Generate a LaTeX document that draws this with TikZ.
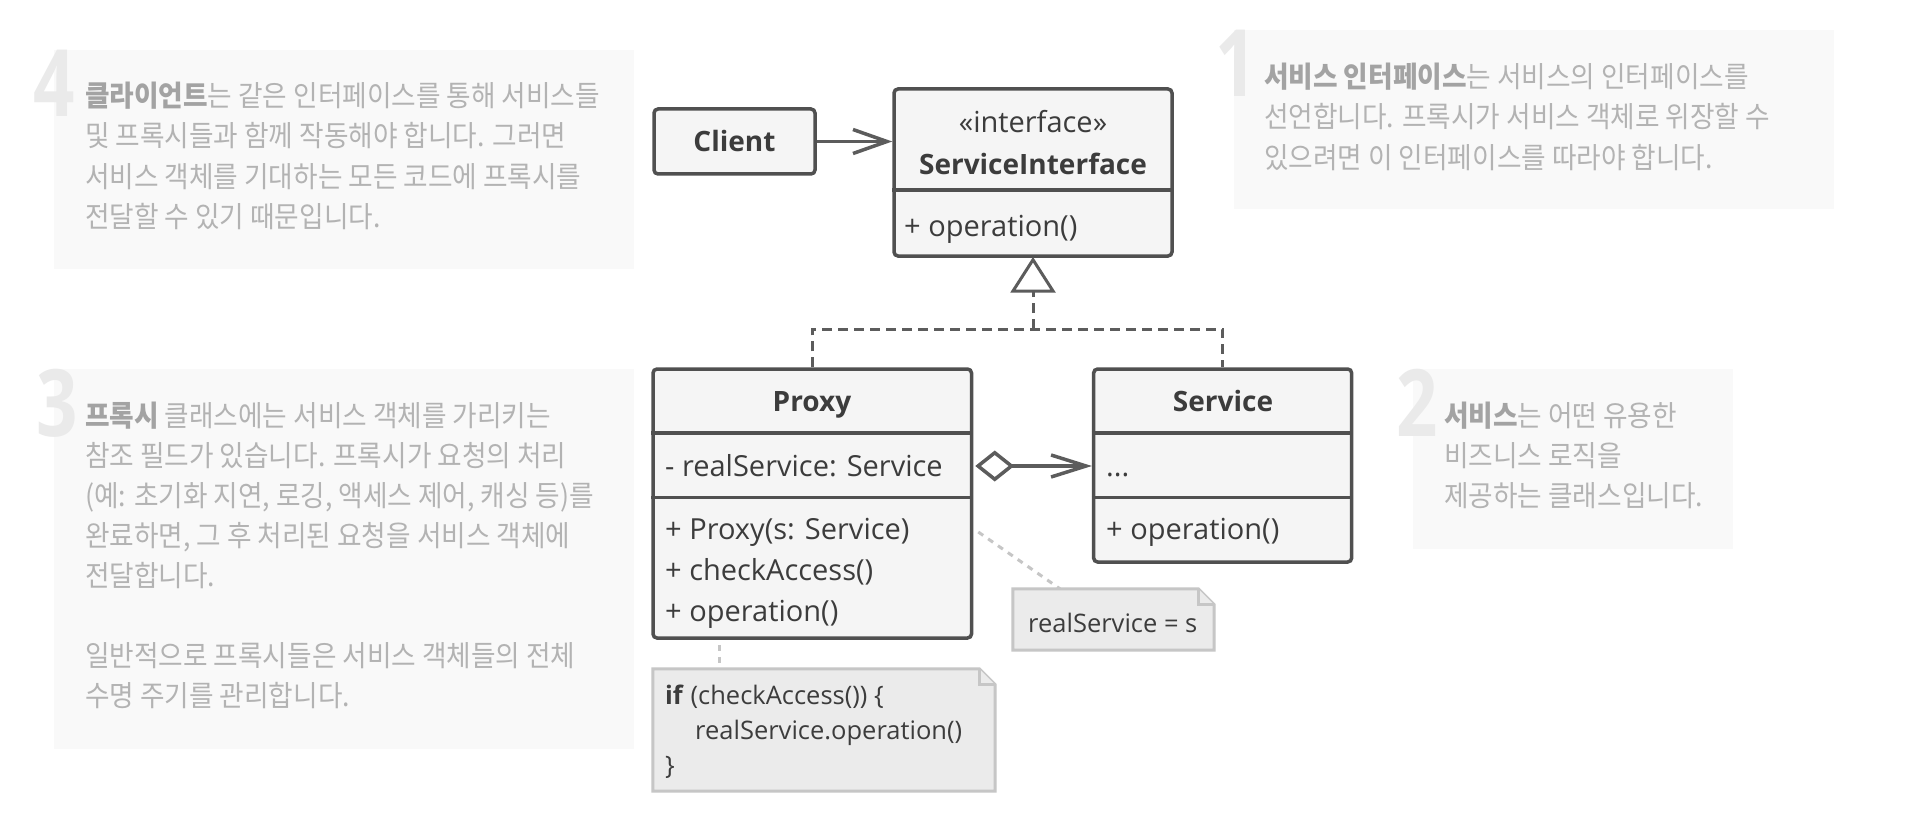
\documentclass[tikz,border=0pt]{standalone}
\usepackage{fontspec}
\setmainfont{Open Sans}
\newfontfamily\krfont[FakeStretch=0.92]{Noto Sans CJK KR}
\usetikzlibrary{arrows.meta}
\definecolor{strokec}{HTML}{505050}
\definecolor{connc}{HTML}{5C5C5C}
\definecolor{boxfill}{HTML}{F5F5F5}
\definecolor{umltext}{HTML}{3C3C3C}
\definecolor{notefill}{HTML}{EBEBEB}
\definecolor{notestroke}{HTML}{C6C6C6}
\definecolor{expfill}{HTML}{F9F9F9}
\definecolor{exptext}{HTML}{B3B3B3}
\definecolor{expbold}{HTML}{A3A3A3}
\definecolor{digitc}{HTML}{EAEAEA}
\begin{document}
\begin{tikzpicture}[x=1pt,y=-1pt,
  umlbox/.style={draw=strokec, line width=3.5pt, fill=boxfill, rounded corners=4pt, inner sep=0pt},
  sepline/.style={draw=strokec, line width=3.5pt},
  umltxt/.style={font=\fontsize{29}{35}\selectfont, text=umltext, inner sep=0pt, anchor=base west},
  umlctr/.style={font=\fontsize{29}{35}\selectfont, text=umltext, inner sep=0pt, anchor=base},
  umlbold/.style={font=\fontsize{28}{35}\selectfont\bfseries, text=umltext, inner sep=0pt, anchor=base},
  notetxt/.style={font=\fontsize{25.5}{33}\selectfont, text=umltext, inner sep=0pt, anchor=base west},
  notebox/.style={draw=none, inner sep=0pt},
  noteshape/.style={draw=notestroke, fill=notefill, line width=3pt, line join=miter},
  notelink/.style={draw=notestroke, line width=3pt, dash pattern=on 6pt off 6pt},
  conn/.style={draw=connc, line width=3.5pt},
  realize/.style={draw=connc, line width=3pt, dash pattern=on 10pt off 6pt},
  expbox/.style={fill=expfill, draw=none, inner sep=0pt, anchor=north west},
  exptxt/.style={font=\krfont\fontsize{29}{40}\selectfont, text=exptext, inner sep=0pt, anchor=base west},
  digitnum/.style={font=\fontsize{93}{93}\selectfont\bfseries, text=digitc, inner sep=0pt, anchor=north west},
]
\useasboundingbox[fill=white] (0,0) rectangle (1920,824);

% explanation panels
\node[expbox, minimum width=580pt, minimum height=219pt] (e4) at (54,50) {};
\node[expbox, minimum width=580pt, minimum height=380pt] (e3) at (54,369) {};
\node[expbox, minimum width=600pt, minimum height=179pt] (e1) at (1234,30) {};
\node[expbox, minimum width=320pt, minimum height=180pt] (e2) at (1413,369) {};

\node[digitnum] (d4) at (33,50) {\scalebox{0.78}[1]{4}};
\node[digitnum] (d3) at (36,369) {\scalebox{0.78}[1]{3}};
\node[digitnum] (d1) at (1215,30) {\scalebox{0.78}[1]{1}};
\node[digitnum] (d2) at (1396,369) {\scalebox{0.78}[1]{2}};

% panel 4
\node[exptxt] (t4a) at (85,107) {{\color{expbold}\bfseries 클라이언트}는 같은 인터페이스를 통해 서비스들};
\node[exptxt] (t4b) at (85,147) {및 프록시들과 함께 작동해야 합니다. 그러면};
\node[exptxt] (t4c) at (85,187) {서비스 객체를 기대하는 모든 코드에 프록시를};
\node[exptxt] (t4d) at (85,227) {전달할 수 있기 때문입니다.};
% panel 1
\node[exptxt] (t1a) at (1264,88) {{\color{expbold}\bfseries 서비스 인터페이스}는 서비스의 인터페이스를};
\node[exptxt] (t1b) at (1264,128) {선언합니다. 프록시가 서비스 객체로 위장할 수};
\node[exptxt] (t1c) at (1264,168) {있으려면 이 인터페이스를 따라야 합니다.};
% panel 2
\node[exptxt] (t2a) at (1444,426) {{\color{expbold}\bfseries 서비스}는 어떤 유용한};
\node[exptxt] (t2b) at (1444,466) {비즈니스 로직을};
\node[exptxt] (t2c) at (1444,506) {제공하는 클래스입니다.};
% panel 3
\node[exptxt] (t3a) at (85,426) {{\color{expbold}\bfseries 프록시} 클래스에는 서비스 객체를 가리키는};
\node[exptxt] (t3b) at (85,466) {참조 필드가 있습니다. 프록시가 요청의 처리};
\node[exptxt] (t3c) at (85,506) {(예: 초기화 지연, 로깅, 액세스 제어, 캐싱 등)를};
\node[exptxt] (t3d) at (85,546) {완료하면, 그 후 처리된 요청을 서비스 객체에};
\node[exptxt] (t3e) at (85,586) {전달합니다.};
\node[exptxt] (t3f) at (85,666) {일반적으로 프록시들은 서비스 객체들의 전체};
\node[exptxt] (t3g) at (85,706) {수명 주기를 관리합니다.};

% coordinates
\coordinate (sepI) at (0,190);
\coordinate (sepA) at (0,433);
\coordinate (sepB) at (0,497.5);
\coordinate (jn) at (1033,329);
\coordinate (tribase) at (1033,291);
\coordinate (trl) at (1013,291);
\coordinate (trr) at (1053,291);
\coordinate (agg) at (0,466);
\coordinate (lk1) at (719,0);
\coordinate (lk2) at (0,532);
\coordinate (lk3) at (1060,0);

% note links (behind)
\node[notebox, minimum width=342pt, minimum height=122pt] (codenote) at (824,730) {};
\node[notebox, minimum width=201pt, minimum height=61pt] (realnote) at (1113.5,619.5) {};
\node[umlbox, draw=none, fill=none, minimum width=318.5pt, minimum height=269pt] (proxy) at (812.25,503.5) {};
\draw[notelink] ([yshift=-5pt]proxy.south -| lk1) -- (codenote.north -| lk1);
\draw[notelink] ([xshift=5pt]proxy.east |- lk2) -- (realnote.north -| lk3);

% UML boxes
\node[umlbox, minimum width=161pt, minimum height=65pt] (client) at (734.5,141.5) {};
\node[umlbold] (clientlbl) at (734.5,152) {Client};

\node[umlbox, minimum width=278pt, minimum height=167pt] (iface) at (1033,172.5) {};
\draw[sepline] (iface.west |- sepI) -- (iface.east |- sepI);
\node[umlctr] (ifst) at (1033,133) {«interface»};
\node[umlbold] (ifname) at (1033,175) {ServiceInterface};
\node[umltxt] (ifop) at (904,236) {+ operation()};

\node[umlbox, minimum width=318.5pt, minimum height=269pt] (proxybox) at (proxy) {};
\draw[sepline] (proxy.west |- sepA) -- (proxy.east |- sepA);
\draw[sepline] (proxy.west |- sepB) -- (proxy.east |- sepB);
\node[umlbold] (pxname) at (812,411) {Proxy};
\node[umltxt] (pxattr) at (665,476) {- realService: Service};
\node[umltxt] (pxm1) at (665,539) {+ Proxy(s: Service)};
\node[umltxt] (pxm2) at (665,580) {+ checkAccess()};
\node[umltxt] (pxm3) at (665,621) {+ operation()};

\node[umlbox, minimum width=258pt, minimum height=193pt] (service) at (1222.65,465.5) {};
\draw[sepline] (service.west |- sepA) -- (service.east |- sepA);
\draw[sepline] (service.west |- sepB) -- (service.east |- sepB);
\node[umlbold] (svname) at (1223,411) {Service};
\node[umltxt] (svattr) at (1106,476) {...};
\node[umltxt] (svop) at (1106,539) {+ operation()};

% connectors
\draw[conn, -{Straight Barb[length=34pt,width=24pt]}] (client.east) -- (client.east -| iface.west);
\draw[realize] (proxy.north) |- (jn) -| (service.north);
\draw[realize] (jn) -- (tribase);
\draw[draw=connc, line width=3pt, fill=white, line join=miter] ([yshift=-2pt]iface.south) -- (trl) -- (trr) -- cycle;
\draw[conn, {Diamond[open,length=39pt,width=31pt]}-{Straight Barb[length=35pt,width=22pt]}] ([xshift=2pt]proxy.east |- agg) -- (service.west |- agg);

% notes
\draw[noteshape] (codenote.north west) -- ([xshift=-16pt]codenote.north east) -- ([yshift=-16pt]codenote.north east) -- (codenote.south east) -- (codenote.south west) -- cycle;
\draw[noteshape] ([xshift=-16pt]codenote.north east) -- ([xshift=-16pt,yshift=-16pt]codenote.north east) -- ([yshift=-16pt]codenote.north east);
\node[notetxt] (code1) at (665,704) {\textbf{if} (checkAccess()) \{};
\node[notetxt] (code2) at (695,739) {realService.operation()};
\node[notetxt] (code3) at (665,774) {\}};

\draw[noteshape] (realnote.north west) -- ([xshift=-16pt]realnote.north east) -- ([yshift=-16pt]realnote.north east) -- (realnote.south east) -- (realnote.south west) -- cycle;
\draw[noteshape] ([xshift=-16pt]realnote.north east) -- ([xshift=-16pt,yshift=-16pt]realnote.north east) -- ([yshift=-16pt]realnote.north east);
\node[notetxt] (realtxt) at (1028,632) {realService = s};
\end{tikzpicture}
\end{document}
